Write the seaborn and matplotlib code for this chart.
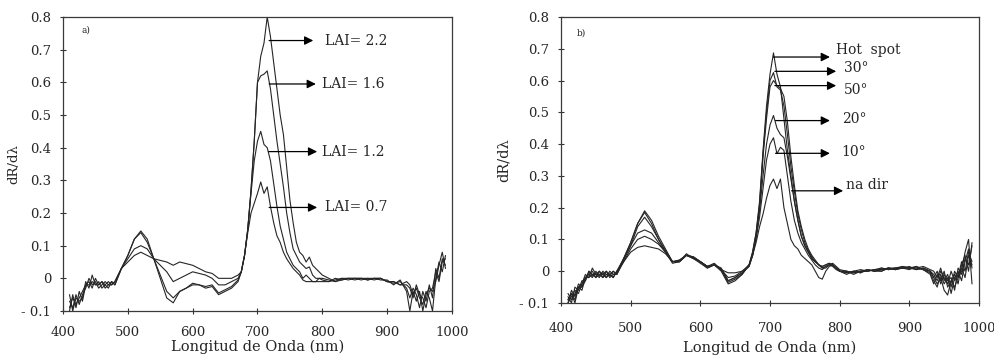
import matplotlib
matplotlib.use("Agg")
import matplotlib.pyplot as plt
import seaborn as sns
import pandas as pd

# ---------------- data ----------------
wavelength = [410, 415, 420, 425, 430, 435, 440, 445, 450, 455, 460, 465, 470, 475, 480,
              490, 500, 510, 520, 530, 540, 550, 560, 570, 580, 590, 600, 610, 620, 630, 640, 650, 660, 670,
              675, 680, 685, 690, 695, 700, 705, 710, 715, 720, 725, 730, 735, 740, 745, 750, 755, 760,
              765, 770, 775, 780, 785, 790, 795, 800,
              810, 820, 830, 840, 850, 860, 870, 880, 890, 900, 910, 920, 930,
              935, 940, 945, 950, 955, 960, 965, 970, 975, 980, 985, 990]

# panel a) -- LAI series
lai_names = ["LAI= 2.2", "LAI= 1.6", "LAI= 1.2", "LAI= 0.7"]
lai_22 = [-0.10, -0.05, -0.09, -0.04, -0.07, -0.02, -0.01, -0.03, 0.00, -0.02, -0.01, -0.03, -0.02, -0.01, -0.02,
          0.03, 0.07, 0.12, 0.145, 0.12, 0.06, 0.00, -0.06, -0.075, -0.04, -0.03, -0.02, -0.02, -0.03, -0.025, -0.05, -0.04, -0.03, -0.01,
          0.02, 0.07, 0.15, 0.27, 0.42, 0.60, 0.68, 0.72, 0.80, 0.74, 0.66, 0.58, 0.50, 0.44, 0.34, 0.24, 0.17, 0.11, 0.08, 0.07, 0.05, 0.065, 0.04, 0.03, 0.02, 0.01,
          0.00, -0.01, 0.00, -0.005, 0.00, 0.00, -0.005, 0.00, 0.00, -0.01, -0.015, -0.01, -0.03,
          -0.06, -0.03, -0.05, -0.09, -0.04, -0.07, -0.02, -0.06, 0.03, 0.00, 0.06, 0.04]
lai_16 = [-0.07, -0.09, -0.05, -0.08, -0.05, -0.03, 0.00, -0.02, -0.01, -0.03, -0.02, -0.01, -0.02, -0.02, -0.01,
          0.03, 0.07, 0.12, 0.14, 0.11, 0.06, 0.01, -0.04, -0.06, -0.04, -0.03, -0.015, -0.02, -0.025, -0.02, -0.045, -0.035, -0.025, -0.005,
          0.02, 0.07, 0.15, 0.27, 0.42, 0.60, 0.62, 0.625, 0.635, 0.58, 0.50, 0.42, 0.35, 0.28, 0.20, 0.14, 0.09, 0.07, 0.05, 0.04, 0.03, 0.035, 0.01, 0.00, 0.00, -0.005,
          -0.01, 0.00, -0.005, 0.00, 0.00, -0.005, 0.00, -0.005, 0.00, -0.01, -0.01, -0.02, -0.01,
          -0.02, -0.05, -0.03, -0.06, -0.08, -0.04, -0.06, -0.10, 0.00, 0.05, 0.02, 0.07]
lai_12 = [-0.09, -0.06, -0.08, -0.06, -0.04, -0.02, -0.02, -0.01, -0.02, -0.01, -0.03, -0.02, -0.01, -0.02, -0.01,
          0.03, 0.06, 0.09, 0.10, 0.09, 0.06, 0.04, 0.02, -0.01, 0.00, 0.01, 0.02, 0.015, 0.01, 0.00, -0.02, -0.02, -0.01, 0.00,
          0.02, 0.07, 0.15, 0.26, 0.36, 0.42, 0.45, 0.41, 0.40, 0.36, 0.29, 0.22, 0.16, 0.12, 0.08, 0.06, 0.04, 0.03, 0.02, 0.00, 0.01, 0.00, -0.01, -0.01, -0.01, -0.01,
          -0.01, -0.005, 0.00, 0.00, -0.005, 0.00, 0.00, 0.00, -0.005, -0.005, -0.02, -0.005, -0.04,
          -0.10, -0.04, -0.07, -0.04, -0.10, -0.05, -0.03, -0.04, -0.01, 0.04, 0.08, 0.03]
lai_07 = [-0.05, -0.10, -0.06, -0.07, -0.06, -0.01, -0.03, 0.01, -0.02, -0.02, -0.01, -0.02, -0.03, -0.01, -0.02,
          0.03, 0.05, 0.07, 0.08, 0.07, 0.06, 0.055, 0.05, 0.04, 0.05, 0.045, 0.04, 0.03, 0.02, 0.015, 0.00, 0.00, 0.00, 0.01,
          0.02, 0.07, 0.14, 0.20, 0.23, 0.26, 0.295, 0.26, 0.28, 0.22, 0.17, 0.13, 0.11, 0.08, 0.06, 0.045, 0.03, 0.02, 0.01, -0.005, -0.01, -0.01, -0.01, -0.01, 0.00, 0.00,
          -0.005, -0.01, -0.005, 0.00, 0.00, 0.00, -0.005, 0.00, 0.00, -0.01, -0.01, -0.02, -0.02,
          -0.03, -0.06, -0.02, -0.05, -0.06, -0.09, -0.04, -0.03, 0.02, -0.01, 0.05, 0.06]

# panel b) -- view angle series
angle_names = ["Hot  spot", "30°", "50°", "20°", "10°", "na dir"]
hot_spot = [-0.10, -0.06, -0.08, -0.04, -0.05, -0.02, -0.01, 0.00, -0.02, 0.00, -0.01, 0.00, -0.02, -0.01, -0.005,
            0.04, 0.09, 0.15, 0.19, 0.16, 0.11, 0.07, 0.03, 0.03, 0.05, 0.045, 0.03, 0.01, 0.02, 0.00, -0.04, -0.03, -0.01, 0.02,
            0.06, 0.12, 0.22, 0.38, 0.52, 0.62, 0.687, 0.62, 0.58, 0.48, 0.38, 0.30, 0.22, 0.16, 0.11, 0.08, 0.06, 0.04, 0.03, 0.02, 0.01, 0.01, 0.02, 0.025, 0.015, 0.005,
            0.00, -0.005, 0.00, 0.005, 0.00, 0.005, 0.01, 0.01, 0.015, 0.01, 0.01, 0.015, 0.005,
            0.00, -0.02, 0.01, -0.03, -0.01, -0.05, 0.00, -0.02, 0.03, 0.00, 0.06, 0.03]
ang_30 = [-0.08, -0.10, -0.05, -0.06, -0.03, -0.03, 0.00, -0.01, -0.01, -0.02, 0.00, -0.01, -0.01, -0.02, 0.00,
          0.04, 0.09, 0.15, 0.185, 0.15, 0.10, 0.065, 0.03, 0.03, 0.05, 0.04, 0.025, 0.01, 0.02, 0.005, -0.035, -0.025, -0.01, 0.02,
          0.06, 0.12, 0.21, 0.37, 0.50, 0.60, 0.625, 0.58, 0.57, 0.52, 0.43, 0.33, 0.25, 0.18, 0.13, 0.09, 0.065, 0.045, 0.03, 0.02, 0.01, 0.015, 0.02, 0.02, 0.01, 0.00,
          -0.005, 0.00, 0.005, 0.00, 0.005, 0.00, 0.01, 0.005, 0.01, 0.015, 0.005, 0.01, 0.00,
          -0.02, 0.00, -0.04, -0.01, -0.03, -0.02, -0.06, 0.01, -0.01, 0.04, 0.02, 0.08]
ang_50 = [-0.09, -0.07, -0.09, -0.05, -0.04, -0.01, -0.02, 0.01, -0.01, -0.01, -0.02, 0.00, -0.01, 0.00, -0.01,
          0.04, 0.08, 0.14, 0.17, 0.14, 0.10, 0.06, 0.025, 0.03, 0.055, 0.04, 0.03, 0.015, 0.025, 0.005, -0.03, -0.02, -0.005, 0.02,
          0.05, 0.11, 0.20, 0.36, 0.48, 0.58, 0.60, 0.585, 0.575, 0.55, 0.47, 0.36, 0.27, 0.19, 0.14, 0.10, 0.07, 0.05, 0.035, 0.02, 0.015, 0.02, 0.025, 0.02, 0.01, 0.00,
          0.00, -0.01, 0.00, 0.00, 0.005, 0.01, 0.005, 0.01, 0.01, 0.005, 0.015, 0.005, -0.01,
          -0.04, -0.01, -0.03, 0.00, -0.05, -0.03, -0.01, -0.04, 0.02, 0.05, 0.00, 0.09]
ang_20 = [-0.10, -0.08, -0.06, -0.07, -0.04, -0.02, -0.01, -0.02, 0.00, -0.015, -0.01, -0.02, 0.00, -0.01, -0.01,
          0.035, 0.08, 0.12, 0.13, 0.12, 0.09, 0.06, 0.03, 0.035, 0.05, 0.045, 0.03, 0.015, 0.02, 0.01, -0.03, -0.02, -0.005, 0.015,
          0.05, 0.11, 0.19, 0.30, 0.40, 0.46, 0.49, 0.45, 0.43, 0.42, 0.36, 0.29, 0.22, 0.16, 0.11, 0.08, 0.06, 0.04, 0.03, 0.02, 0.015, 0.02, 0.025, 0.02, 0.01, 0.00,
          -0.005, 0.00, -0.005, 0.005, 0.00, 0.01, 0.005, 0.01, 0.01, 0.01, 0.005, 0.01, 0.00,
          -0.01, -0.03, 0.00, -0.02, -0.04, 0.00, -0.03, -0.01, 0.01, -0.02, 0.05, 0.02]
ang_10 = [-0.07, -0.09, -0.07, -0.05, -0.05, -0.03, 0.00, -0.015, -0.01, 0.00, -0.02, -0.01, -0.015, 0.00, -0.01,
          0.03, 0.07, 0.10, 0.11, 0.10, 0.085, 0.06, 0.03, 0.03, 0.05, 0.045, 0.03, 0.015, 0.02, 0.005, -0.02, -0.015, 0.00, 0.015,
          0.05, 0.10, 0.17, 0.26, 0.35, 0.40, 0.42, 0.37, 0.39, 0.38, 0.30, 0.22, 0.16, 0.12, 0.09, 0.07, 0.05, 0.035, 0.02, 0.01, 0.005, 0.015, 0.02, 0.015, 0.005, 0.00,
          0.00, -0.005, 0.00, 0.00, 0.005, 0.005, 0.01, 0.005, 0.015, 0.01, 0.01, 0.005, -0.005,
          -0.03, -0.05, -0.01, -0.04, -0.02, -0.07, -0.02, 0.00, -0.03, 0.03, 0.07, 0.01]
nadir = [-0.09, -0.07, -0.10, -0.05, -0.06, -0.02, -0.02, -0.01, -0.02, -0.01, -0.005, -0.02, -0.01, -0.02, 0.00,
         0.03, 0.06, 0.075, 0.08, 0.075, 0.07, 0.055, 0.03, 0.035, 0.05, 0.04, 0.03, 0.015, 0.02, 0.005, -0.005, -0.005, 0.00, 0.02,
         0.05, 0.09, 0.14, 0.18, 0.23, 0.27, 0.29, 0.26, 0.29, 0.20, 0.15, 0.10, 0.08, 0.07, 0.05, 0.04, 0.03, 0.02, 0.00, -0.02, -0.025, 0.00, 0.015, 0.02, 0.01, 0.00,
         -0.01, 0.00, -0.005, 0.005, 0.00, 0.00, 0.01, 0.005, 0.01, 0.01, 0.015, 0.005, 0.00,
         -0.02, -0.04, -0.02, -0.06, -0.075, -0.03, -0.05, -0.02, 0.00, 0.06, 0.10, -0.04]

x_ticks = [400, 500, 600, 700, 800, 900, 1000]
y_ticks = [-0.1, 0, 0.1, 0.2, 0.3, 0.4, 0.5, 0.6, 0.7, 0.8]
y_tick_labels = ["- 0.1", "0", "0.1", "0.2", "0.3", "0.4", "0.5", "0.6", "0.7", "0.8"]
x_label = "Longitud de Onda (nm)"
y_label = "dR/dλ"

# ---------------- style ----------------
sns.set_theme(style="white")
plt.rcParams["font.family"] = ["DejaVu Serif", "DejaVu Sans"]

fig = plt.figure(figsize=(9.94, 3.59), dpi=100)
ax_a = fig.add_axes([0.0634, 0.1337, 0.3913, 0.8189])
ax_b = fig.add_axes([0.5644, 0.1560, 0.4205, 0.7967])

line_col = "#262626"


def long_frame(names, series):
    rows = []
    for n, s in zip(names, series):
        rows.append(pd.DataFrame({"wl": wavelength, "val": s, "serie": n}))
    return pd.concat(rows, ignore_index=True)


df_a = long_frame(lai_names, [lai_22, lai_16, lai_12, lai_07])
df_b = long_frame(angle_names, [hot_spot, ang_30, ang_50, ang_20, ang_10, nadir])

sns.lineplot(data=df_a, x="wl", y="val", hue="serie", palette=[line_col] * 4,
             legend=False, ax=ax_a, linewidth=0.8, estimator=None)
sns.lineplot(data=df_b, x="wl", y="val", hue="serie", palette=[line_col] * 6,
             legend=False, ax=ax_b, linewidth=0.8, estimator=None)

for ax, xpad in ((ax_a, 8), (ax_b, 11)):
    ax.set_xlim(400, 1000)
    ax.set_ylim(-0.1, 0.8)
    ax.set_xticks(x_ticks)
    ax.set_xticklabels([str(t) for t in x_ticks])
    ax.set_yticks(y_ticks)
    ax.set_yticklabels(y_tick_labels)
    ax.tick_params(axis="both", direction="inout", length=5, width=0.8, color="#333333",
                   labelsize=9.5, bottom=True, left=True)
    ax.tick_params(axis="x", pad=xpad)
    ax.tick_params(axis="y", pad=6)
    for sp in ax.spines.values():
        sp.set_visible(True)
        sp.set_color("#3a3a3a")
        sp.set_linewidth(0.9)

ax_a.set_xlabel(x_label, fontsize=10.5, labelpad=1)
ax_b.set_xlabel(x_label, fontsize=10.5, labelpad=4)
ax_a.set_ylabel(y_label, fontsize=9.5, labelpad=1)
ax_b.set_ylabel(y_label, fontsize=10.5, labelpad=6)

ax_a.text(429, 0.76, "a)", fontsize=6.5, va="center", ha="left")
ax_b.text(423, 0.748, "b)", fontsize=6.5, va="center", ha="left")

arrow_kw = dict(arrowstyle="-|>", color="black", lw=0.9, mutation_scale=13,
                shrinkA=0, shrinkB=0)

# panel a arrows: (start_x, end_x, y, label_x, label_y)
arrows_a = [(718, 786, 0.728, 804, 0.728),
            (718, 790, 0.595, 799, 0.595),
            (717, 792, 0.388, 799, 0.388),
            (718, 792, 0.217, 804, 0.217)]
for (x0, x1, y, lx, ly), name in zip(arrows_a, lai_names):
    ax_a.annotate("", xy=(x1, y), xytext=(x0, y), arrowprops=arrow_kw)
    ax_a.text(lx, ly, name, fontsize=10, va="center", ha="left")

arrows_b = [(705, 786, 0.674, 795, 0.695),
            (707, 795, 0.629, 806, 0.64),
            (707, 795, 0.584, 806, 0.569),
            (708, 786, 0.474, 803, 0.478),
            (708, 786, 0.371, 803, 0.374),
            (731, 805, 0.253, 809, 0.271)]
for (x0, x1, y, lx, ly), name in zip(arrows_b, angle_names):
    ax_b.annotate("", xy=(x1, y), xytext=(x0, y), arrowprops=arrow_kw)
    ax_b.text(lx, ly, name, fontsize=10, va="center", ha="left")

fig.savefig("out.png", dpi=100, facecolor="white")
